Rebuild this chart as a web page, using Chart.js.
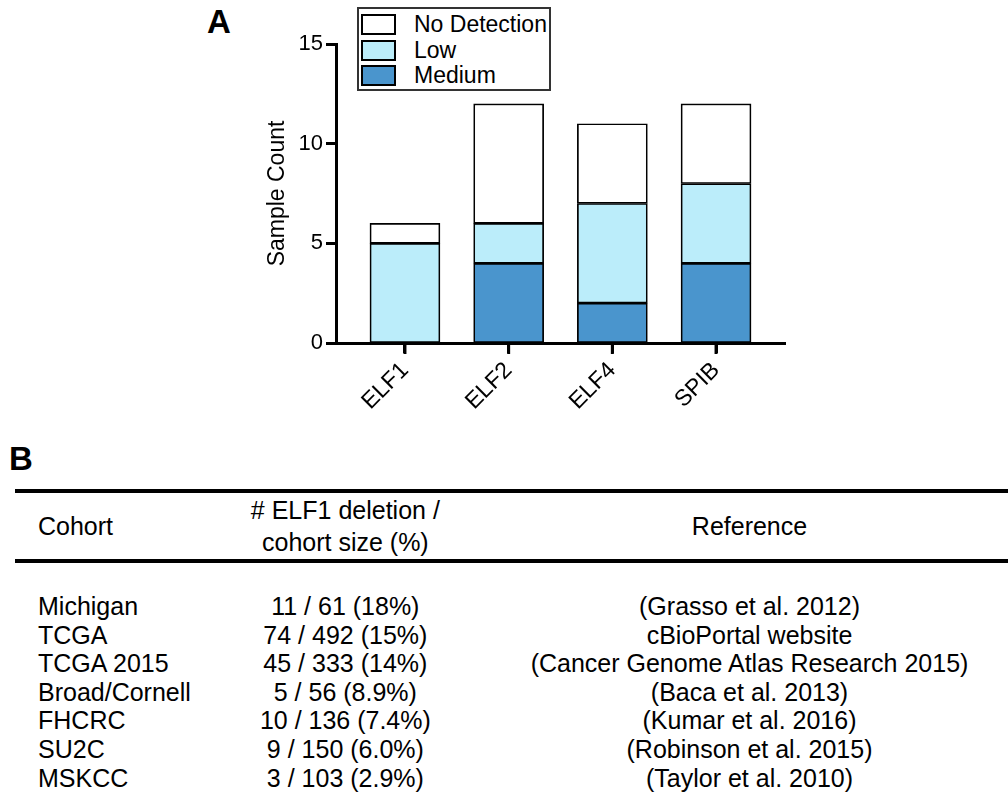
<!DOCTYPE html>
<html>
<head>
<meta charset="utf-8">
<script src="https://cdn.jsdelivr.net/npm/chart.js@4.4.1/dist/chart.umd.min.js"></script>
<style>
  html, body { margin: 0; padding: 0; background: #fff; }
  body { width: 1008px; height: 792px; position: relative; overflow: hidden;
         font-family: "Liberation Sans", Arial, Helvetica, sans-serif; color: #000; }
  .panel { position: absolute; font-weight: bold; font-size: 33px; }
  #chartWrap { position: absolute; left: 0; top: 0; width: 1008px; height: 440px; }
  #legend { position: absolute; left: 357px; top: 7px; width: 190px; height: 77px;
            border: 2px solid #333; background: #fff; padding-top: 3px; }
  .item { height: 25.5px; display: flex; align-items: center; font-size: 23px; white-space: nowrap; }
  .swatch { width: 31px; height: 17px; border: 2px solid #000; margin-left: 2px; margin-right: 18px; flex: none; }
  #tbl { position: absolute; left: 15px; top: 489px; border-collapse: collapse; table-layout: fixed; }
  #tbl th { font-weight: normal; font-size: 25px; line-height: 32px; height: 66px; padding: 0;
            border-top: 4px solid #000; border-bottom: 4px solid #000; }
  #tbl td { font-size: 25px; line-height: 28.6px; padding: 0; white-space: nowrap; }
  #tbl tr.first td { padding-top: 29px; }
  .c1 { text-align: left; padding-left: 23px !important; }
  .c2, .c3 { text-align: center; }
</style>
</head>
<body>
<div class="panel" style="left:207px; top:3px;">A</div>
<div class="panel" style="left:9px; top:440px;">B</div>
<div id="chartWrap"><canvas id="myChart" width="1008" height="440"></canvas></div>
<div id="legend"></div>
<table id="tbl">
  <colgroup><col style="width:185px"><col style="width:296px"><col style="width:520px"></colgroup>
  <thead><tr><th class="c1">Cohort</th><th class="c2"># ELF1 deletion /<br>cohort size (%)</th><th class="c3">Reference</th></tr></thead>
  <tbody id="tbody"></tbody>
</table>
<script>
var genes = ['ELF1', 'ELF2', 'ELF4', 'SPIB'];
var mediumCounts = [0, 4, 2, 4];
var lowCounts = [5, 2, 5, 4];
var noDetectionCounts = [1, 6, 4, 4];
var yTicks = [0, 5, 10, 15];

var cohorts = ['Michigan', 'TCGA', 'TCGA 2015', 'Broad/Cornell', 'FHCRC', 'SU2C', 'MSKCC'];
var deletions = ['11 / 61 (18%)', '74 / 492 (15%)', '45 / 333 (14%)', '5 / 56 (8.9%)',
                 '10 / 136 (7.4%)', '9 / 150 (6.0%)', '3 / 103 (2.9%)'];
var references = ['(Grasso et al. 2012)', 'cBioPortal website', '(Cancer Genome Atlas Research 2015)',
                  '(Baca et al. 2013)', '(Kumar et al. 2016)', '(Robinson et al. 2015)', '(Taylor et al. 2010)'];

function points(arr) {
  return arr.map(function(v, i) { return { x: i + 1, y: v }; });
}

var datasets = [
  { label: 'Medium', data: points(mediumCounts), backgroundColor: '#4a95cd' },
  { label: 'Low', data: points(lowCounts), backgroundColor: '#bbedfa' },
  { label: 'No Detection', data: points(noDetectionCounts), backgroundColor: '#ffffff' }
];
datasets.forEach(function(d) {
  d.borderColor = '#000';
  d.borderWidth = 1.7;
  d.borderSkipped = false;
  d.barThickness = 70;
});

var font = { family: '"Liberation Sans", Arial, sans-serif', size: 22 };

// small tick marks under the x axis, one per category
var xTickMarks = {
  id: 'xTickMarks',
  afterDraw: function(chart) {
    var sc = chart.scales.x;
    var c = chart.ctx;
    c.save();
    c.strokeStyle = '#000';
    c.lineWidth = 3;
    sc.ticks.forEach(function(t) {
      var px = sc.getPixelForValue(t.value);
      c.beginPath();
      c.moveTo(px, sc.top);
      c.lineTo(px, sc.top + 11);
      c.stroke();
    });
    c.restore();
  }
};

var ctx = document.getElementById('myChart').getContext('2d');
var chart = new Chart(ctx, {
  type: 'bar',
  data: { datasets: datasets },
  plugins: [xTickMarks],
  options: {
    responsive: false,
    animation: false,
    devicePixelRatio: 1,
    layout: { padding: { left: 260, top: 44, right: 223, bottom: 0 } },
    plugins: { legend: { display: false }, tooltip: { enabled: false } },
    scales: {
      x: {
        type: 'linear',
        stacked: true,
        offset: false,
        min: 0.335,
        max: 4.665,
        afterBuildTicks: function(scale) {
          scale.ticks = genes.map(function(g, i) { return { value: i + 1 }; });
        },
        afterFit: function(scale) { scale.height = 97; },
        ticks: {
          color: '#000', font: { family: font.family, size: 23 }, maxRotation: 45, minRotation: 45, padding: 4,
          callback: function(value) { return genes[value - 1]; }
        },
        grid: { offset: false, drawOnChartArea: false, drawTicks: true, tickLength: 10, tickColor: '#000', tickWidth: 3 },
        border: { color: '#000', width: 3 }
      },
      y: {
        stacked: true,
        min: 0,
        max: 15,
        afterBuildTicks: function(scale) {
          scale.ticks = yTicks.map(function(v) { return { value: v }; });
        },
        afterFit: function(scale) { scale.width = 76; },
        ticks: { color: '#000', font: font, padding: 3 },
        title: { display: true, text: 'Sample Count', color: '#000',
                 font: { family: font.family, size: 23 } },
        grid: { drawOnChartArea: false, drawTicks: true, tickLength: 10, tickColor: '#000', tickWidth: 3 },
        border: { color: '#000', width: 3 }
      }
    }
  }
});

// legend, top entry first
var legend = document.getElementById('legend');
chart.data.datasets.slice().reverse().forEach(function(d) {
  var row = document.createElement('div');
  row.className = 'item';
  row.innerHTML = '<span class="swatch" style="background:' + d.backgroundColor + '"></span>' + d.label;
  legend.appendChild(row);
});

// table B
var tbody = document.getElementById('tbody');
cohorts.forEach(function(c, i) {
  var tr = document.createElement('tr');
  if (i === 0) tr.className = 'first';
  tr.innerHTML = '<td class="c1">' + c + '</td><td class="c2">' + deletions[i] +
                 '</td><td class="c3">' + references[i] + '</td>';
  tbody.appendChild(tr);
});
</script>
</body>
</html>
